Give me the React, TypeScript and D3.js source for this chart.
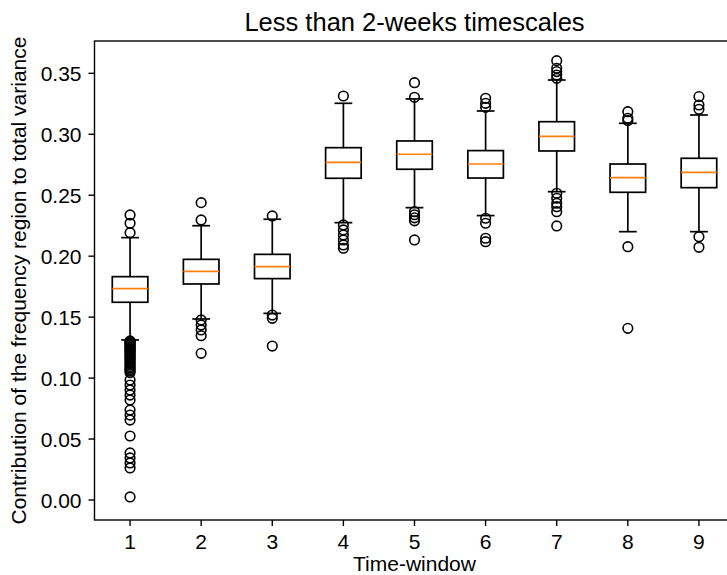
import React from "react";
import * as d3 from "d3";

const windows = [1, 2, 3, 4, 5, 6, 7, 8, 9];
const q1s = [0.1622, 0.1772, 0.1816, 0.2639, 0.2713, 0.2641, 0.2863, 0.2524, 0.2562];
const medians = [0.1734, 0.1876, 0.1914, 0.277, 0.2836, 0.2756, 0.2983, 0.2644, 0.2688];
const q3s = [0.1832, 0.1974, 0.2015, 0.289, 0.2945, 0.2866, 0.3103, 0.2756, 0.2803];
const whiskerLows = [0.1313, 0.1485, 0.1531, 0.2275, 0.2398, 0.2333, 0.2529, 0.2201, 0.2201];
const whiskerHighs = [0.2152, 0.225, 0.2303, 0.3254, 0.329, 0.3191, 0.3445, 0.309, 0.3158];
const outliers = [
  [0.2338, 0.227, 0.2193,
   0.1305, 0.1298, 0.129, 0.1281, 0.1272, 0.1265, 0.1255, 0.1246, 0.1238, 0.1228, 0.1219, 0.121,
   0.1199, 0.1188, 0.1179, 0.1168, 0.1156, 0.1146, 0.1134, 0.1121, 0.1109, 0.1095, 0.1082, 0.107, 0.1058, 0.1045,
   0.0984, 0.0943, 0.0902, 0.0861, 0.082, 0.0738, 0.0697, 0.0656, 0.0525, 0.0386, 0.0345, 0.0304, 0.0263, 0.0025],
  [0.2439, 0.2297, 0.1477, 0.1436, 0.1395, 0.1348, 0.1203],
  [0.233, 0.1517, 0.149, 0.1263],
  [0.3314, 0.2256, 0.2215, 0.2174, 0.2133, 0.2092, 0.2065],
  [0.3423, 0.3303, 0.2365, 0.234, 0.2315, 0.229, 0.2133],
  [0.3295, 0.3254, 0.3221, 0.2311, 0.227, 0.2147, 0.2119],
  [0.3604, 0.3541, 0.3514, 0.3486, 0.3459, 0.2516, 0.2475, 0.2434, 0.2406, 0.2365, 0.2248],
  [0.3185, 0.3131, 0.3112, 0.2078, 0.1408],
  [0.3309, 0.324, 0.3205, 0.216, 0.2073],
];
const yTicks = [0, 0.05, 0.1, 0.15, 0.2, 0.25, 0.3, 0.35];

const W = 727;
const H = 575;
const left = 94.5;
const right = 734.5;
const top = 41;
const bottom = 520;
const FONT = "'Liberation Sans', Arial, sans-serif";
const FS = 21;

export default function App() {
  const x = d3.scaleLinear().domain([0.5, 9.5]).range([left, right]);
  const y = d3.scaleLinear().domain([-0.0164, 0.3765]).range([bottom, top]);
  const boxW = x(1.5) - x(1);
  const capW = boxW / 2;
  const lw = 1.7;
  return (
    <svg width={W} height={H} style={{ position: "absolute", left: 0, top: 0, background: "#fff" }}>
      <rect x={0} y={0} width={W} height={H} fill="#fff" />
      {windows.map((w, i) => {
        const cx = x(w);
        return (
          <g key={w}>
            <line x1={cx} x2={cx} y1={y(q3s[i])} y2={y(whiskerHighs[i])} stroke="#000" strokeWidth={lw} />
            <line x1={cx} x2={cx} y1={y(q1s[i])} y2={y(whiskerLows[i])} stroke="#000" strokeWidth={lw} />
            <line x1={cx - capW / 2} x2={cx + capW / 2} y1={y(whiskerHighs[i])} y2={y(whiskerHighs[i])} stroke="#000" strokeWidth={lw} />
            <line x1={cx - capW / 2} x2={cx + capW / 2} y1={y(whiskerLows[i])} y2={y(whiskerLows[i])} stroke="#000" strokeWidth={lw} />
            <rect x={cx - boxW / 2} y={y(q3s[i])} width={boxW} height={y(q1s[i]) - y(q3s[i])} fill="none" stroke="#000" strokeWidth={lw} />
            <line x1={cx - boxW / 2} x2={cx + boxW / 2} y1={y(medians[i])} y2={y(medians[i])} stroke="#ff7f0e" strokeWidth={lw} />
            {outliers[i].map((v, j) => (
              <circle key={j} cx={cx} cy={y(v)} r={4.8} fill="none" stroke="#000" strokeWidth={1.6} />
            ))}
          </g>
        );
      })}
      <rect x={left} y={top} width={right - left} height={bottom - top} fill="none" stroke="#000" strokeWidth={1.4} />
      {yTicks.map((t) => (
        <g key={t}>
          <line x1={left - 6} x2={left} y1={y(t)} y2={y(t)} stroke="#000" strokeWidth={1.4} />
          <text x={left - 13} y={y(t)} dy="0.36em" textAnchor="end" fontFamily={FONT} fontSize={FS} fill="#000">
            {d3.format(".2f")(t)}
          </text>
        </g>
      ))}
      {windows.map((w) => (
        <g key={"xt" + w}>
          <line x1={x(w)} x2={x(w)} y1={bottom} y2={bottom + 6} stroke="#000" strokeWidth={1.4} />
          <text x={x(w)} y={548.5} textAnchor="middle" fontFamily={FONT} fontSize={FS} fill="#000">
            {w}
          </text>
        </g>
      ))}
      <text x={(left + right) / 2} y={571} textAnchor="middle" fontFamily={FONT} fontSize={FS} fill="#000">
        Time-window
      </text>
      <text
        transform={`translate(26, ${(top + bottom) / 2}) rotate(-90)`}
        textAnchor="middle"
        fontFamily={FONT}
        fontSize={FS}
        fill="#000"
      >
        Contribution of the frequency region to total variance
      </text>
      <text x={(left + right) / 2} y={30.5} textAnchor="middle" fontFamily={FONT} fontSize={25.5} fill="#000">
        Less than 2-weeks timescales
      </text>
    </svg>
  );
}
